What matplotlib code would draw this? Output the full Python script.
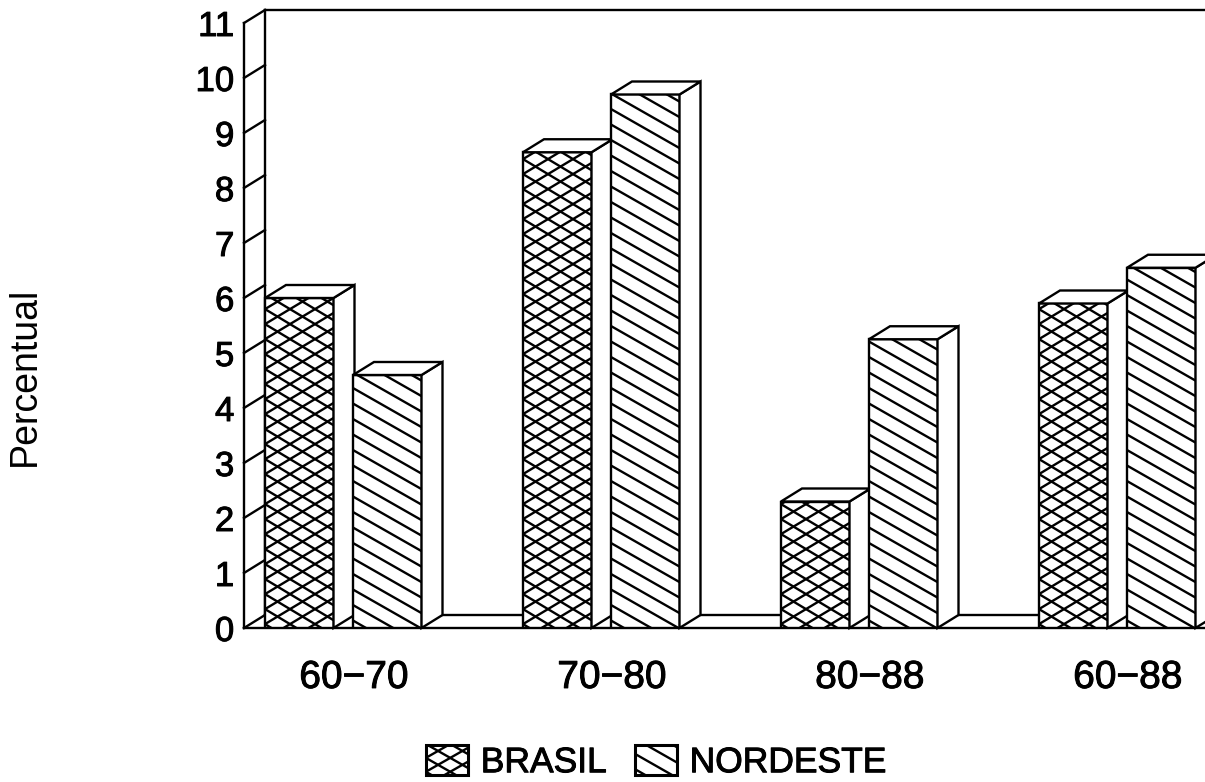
import matplotlib
matplotlib.use('Agg')
import matplotlib.pyplot as plt
import matplotlib.patheffects as pe
from matplotlib.collections import LineCollection
from matplotlib.legend_handler import HandlerPatch
from matplotlib.lines import Line2D
from matplotlib.patches import Patch, Polygon, Rectangle

plt.rcParams['font.family'] = ['Liberation Sans', 'DejaVu Sans']

periods = ['60\u221270', '70\u221280', '80\u221288', '60\u221288']
brasil = [6.0, 8.65, 2.3, 5.9]
nordeste = [4.6, 9.7, 5.25, 6.55]
y_ticks = list(range(0, 12))

W, H = 1205, 782
AX_L, AX_R, AX_B, AX_T = 244, 1205, 628, 23
PX_X = 258.0          # pixels per category
PX_Y = 55.0           # pixels per percent point
BAR_W = 68.5 / PX_X
PITCH = 88 / PX_X
DEPTH_X = 21 / PX_X
DEPTH_Y = 13 / PX_Y
LW = 1.7

# makes the thin font look as heavy as the scanned one
heavy = [pe.withStroke(linewidth=0.7, foreground='black')]


def hatch_segments(x0, x1, y0, y1, slope, step):
    # parallel lines, slope and step are given in data units
    segs = []
    c = y0 - abs(slope) * (x1 - x0) - step
    while c < y1 + abs(slope) * (x1 - x0) + step:
        segs.append([(x0, c), (x1, c + slope * (x1 - x0))])
        c += step
    return segs


def draw_bar(ax, x, value, cross):
    rect = ax.bar(x, value, BAR_W, align='edge', facecolor='white', edgecolor='black',
                  linewidth=LW, zorder=3)[0]
    if cross:
        slope = 0.6 * PX_X / PX_Y
        step = 15 / PX_Y
        segs = hatch_segments(x, x + BAR_W, 0, value, slope, step)
        segs += hatch_segments(x, x + BAR_W, 0, value, -slope, step)
    else:
        slope = 0.57 * PX_X / PX_Y
        segs = hatch_segments(x, x + BAR_W, 0, value, -slope, 15.5 / PX_Y)
    lc = LineCollection(segs, colors='black', linewidths=LW, zorder=3)
    ax.add_collection(lc, autolim=False)
    lc.set_clip_path(rect)
    xr = x + BAR_W
    side = [(xr, 0), (xr + DEPTH_X, DEPTH_Y), (xr + DEPTH_X, value + DEPTH_Y), (xr, value)]
    top = [(x, value), (x + DEPTH_X, value + DEPTH_Y), (xr + DEPTH_X, value + DEPTH_Y), (xr, value)]
    for pts in (side, top):
        ax.add_patch(Polygon(pts, closed=True, facecolor='white', edgecolor='black',
                             linewidth=LW, zorder=3, clip_on=False))


class SwatchHandler(HandlerPatch):
    def __init__(self, cross):
        super().__init__()
        self.cross = cross

    def create_artists(self, legend, orig_handle, xdescent, ydescent, width, height, fontsize, trans):
        rect = Rectangle((-xdescent, -ydescent), width, height, facecolor='white',
                         edgecolor='black', linewidth=2.2, transform=trans)
        x0, x1 = -xdescent, width - xdescent
        y0, y1 = -ydescent, height - ydescent
        if self.cross:
            segs = hatch_segments(x0, x1, y0, y1, 0.57, 10) + hatch_segments(x0, x1, y0, y1, -0.57, 10)
        else:
            segs = hatch_segments(x0, x1, y0, y1, -0.57, 11)
        artists = [rect]
        for s in segs:
            line = Line2D([s[0][0], s[1][0]], [s[0][1], s[1][1]], color='black', linewidth=LW, transform=trans)
            line.set_clip_path(rect)
            artists.append(line)
        return artists


fig = plt.figure(figsize=(W / 100, H / 100), dpi=100)
ax = fig.add_axes([AX_L / W, (H - AX_B) / H, (AX_R - AX_L) / W, (AX_B - AX_T) / H])

x_first = 265 / PX_X - AX_L / PX_X   # left edge of first bar, from the axis
ax.set_xlim(-x_first, (AX_R - AX_L) / PX_X - x_first)
ax.set_ylim(0, 11)

for s in ('top', 'right'):
    ax.spines[s].set_visible(False)
for s in ('left', 'bottom'):
    ax.spines[s].set_linewidth(LW)

# side wall and back wall
x_left, x_right = ax.get_xlim()
for v in y_ticks:
    ax.plot([x_left, x_left + DEPTH_X], [v, v + DEPTH_Y], color='black', lw=LW, clip_on=False, zorder=1)
ax.plot([x_left + DEPTH_X] * 2, [DEPTH_Y, 11 + DEPTH_Y], color='black', lw=LW, clip_on=False, zorder=1)
ax.plot([x_left + DEPTH_X, x_right], [11 + DEPTH_Y] * 2, color='black', lw=LW, clip_on=False, zorder=1)
ax.plot([x_left + DEPTH_X, x_right], [DEPTH_Y] * 2, color='black', lw=LW, clip_on=False, zorder=1)

for i in range(len(periods)):
    draw_bar(ax, i, brasil[i], True)
    draw_bar(ax, i + PITCH, nordeste[i], False)

ax.set_yticks(y_ticks)
ax.set_yticklabels(y_ticks, fontsize=25, path_effects=heavy)
ax.set_xticks([i + (354 - 265) / PX_X for i in range(len(periods))])
ax.set_xticklabels(periods, fontsize=28, path_effects=heavy)
ax.tick_params(axis='y', length=0, pad=7)
ax.tick_params(axis='x', length=0, pad=23)

fig.text(25 / W, 1 - 376 / H, 'Percentual', rotation=90, ha='center', va='center', fontsize=27)

handles = [Patch(label='BRASIL'), Patch(label='NORDESTE')]
leg = fig.legend(handles=handles, labels=['BRASIL', 'NORDESTE'],
                 handler_map={handles[0]: SwatchHandler(True), handles[1]: SwatchHandler(False)},
                 loc='center', bbox_to_anchor=(656 / W, 1 - 762 / H), ncol=2, frameon=False,
                 fontsize=25.5, handlelength=1.2, handleheight=0.95, handletextpad=0.35,
                 columnspacing=0.8, borderpad=0, borderaxespad=0)
for t in leg.get_texts():
    t.set_path_effects(heavy)

fig.savefig('out.png', dpi=100)
